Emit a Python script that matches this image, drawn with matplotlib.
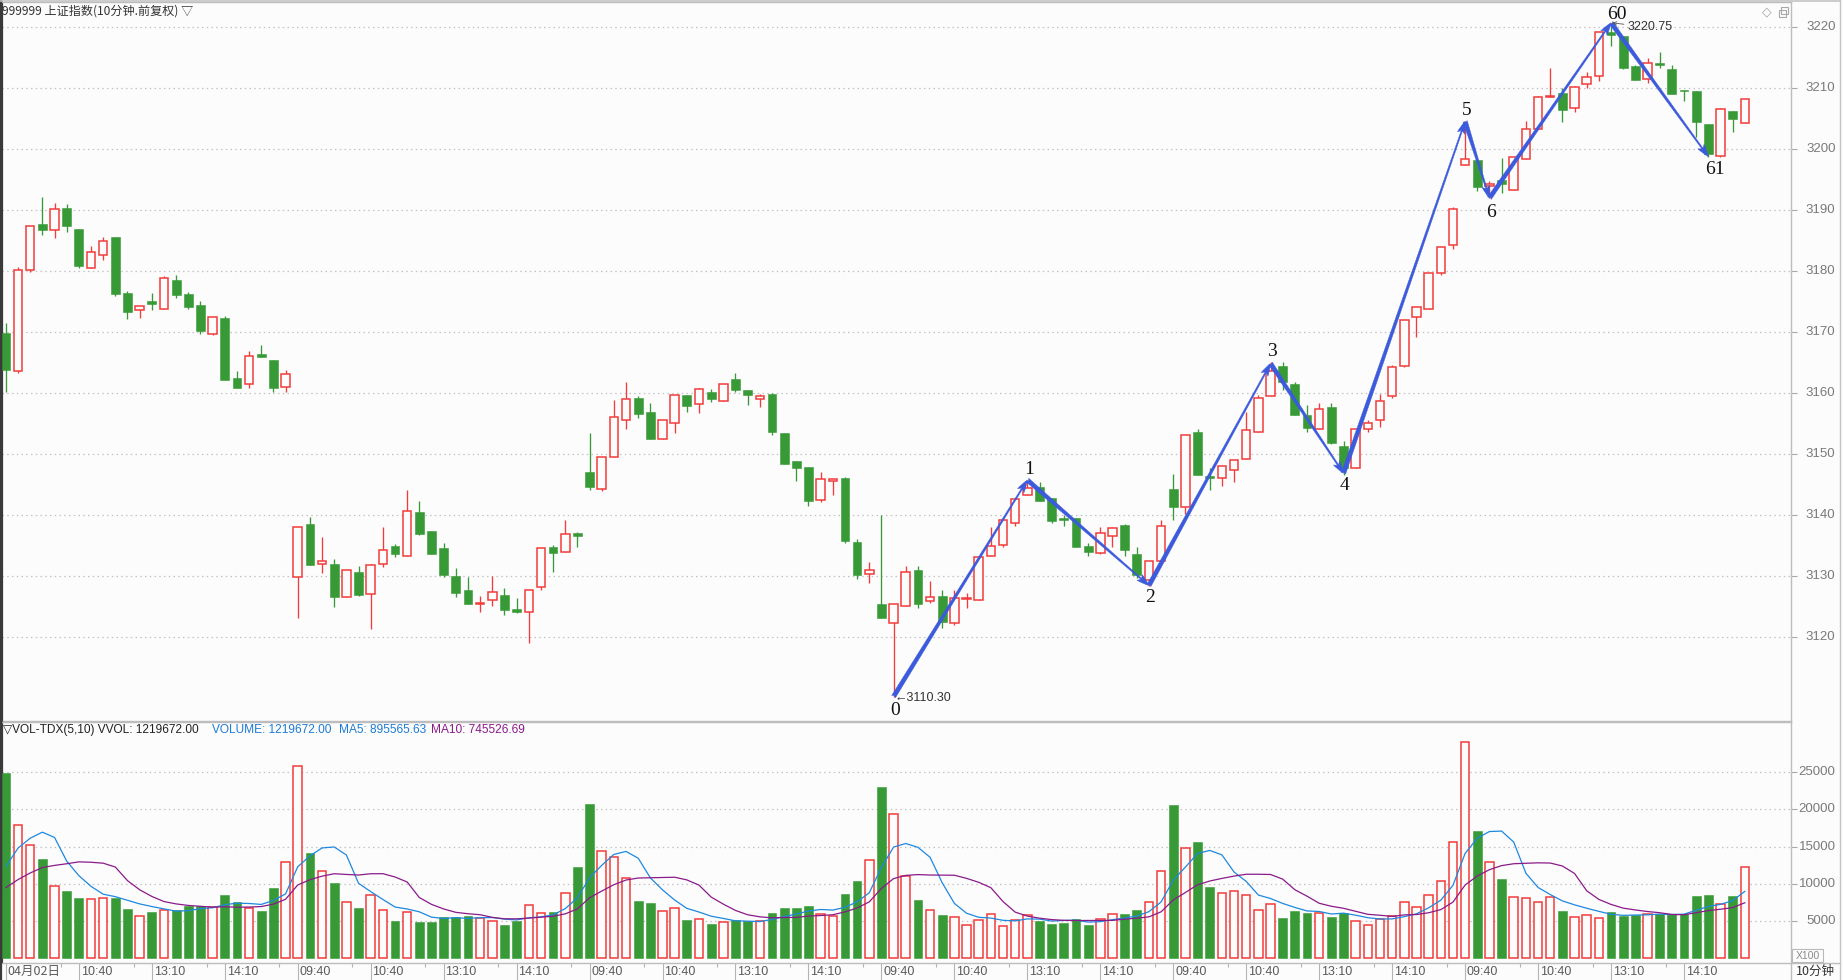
import numpy as np
import pandas as pd
import matplotlib
matplotlib.use("Agg")
import matplotlib.pyplot as plt
from matplotlib import transforms
from matplotlib.patches import Rectangle
from matplotlib.lines import Line2D

# ------------------------------------------------------------------ data
opens = [3169.9, 3163.6, 3180.3, 3187.8, 3186.8, 3190.4, 3186.9, 3180.5, 3182.7, 3185.6,
         3176.4, 3173.6, 3175.1, 3173.9, 3178.6, 3176.3, 3174.5, 3169.8, 3172.3, 3162.5,
         3161.5, 3166.4, 3165.5, 3161.0,
         3129.9, 3138.6, 3132.1, 3132.0, 3126.6, 3130.7, 3127.1, 3132.0, 3135.0, 3133.4,
         3140.5, 3137.4, 3134.6, 3130.1, 3127.8, 3125.4, 3126.1, 3126.9, 3124.6, 3124.1,
         3128.2, 3134.8, 3134.0, 3137.1,
         3147.1, 3144.4, 3149.5, 3155.6, 3159.2, 3156.9, 3152.5, 3155.1, 3159.7, 3158.2,
         3160.2, 3158.7, 3162.4, 3160.6, 3159.0, 3159.9, 3153.5, 3148.9, 3147.9, 3142.6,
         3145.7, 3146.1, 3135.6, 3130.4,
         3125.5, 3122.4, 3125.2, 3131.0, 3125.9, 3126.8, 3122.4, 3126.3, 3126.2, 3133.3,
         3135.2, 3138.8, 3143.3, 3144.6, 3142.8, 3139.6, 3139.6, 3135.0, 3133.9, 3136.6,
         3138.4, 3133.7, 3129.4, 3132.6,
         3144.3, 3141.3, 3153.6, 3146.5, 3146.2, 3147.4, 3149.2, 3153.7, 3159.6, 3164.5,
         3161.5, 3156.4, 3154.1, 3157.7, 3151.4, 3147.7, 3154.1, 3155.6, 3159.5, 3164.5,
         3172.5, 3173.9, 3179.8, 3184.4,
         3197.4, 3198.3, 3194.0, 3194.9, 3193.4, 3198.4, 3203.4, 3208.6, 3209.2, 3206.7,
         3210.7, 3212.0, 3219.3, 3218.6, 3213.7, 3211.6, 3214.2, 3213.2, 3209.6, 3209.6,
         3204.2, 3198.9, 3206.3, 3204.3]
highs = [3171.6, 3180.7, 3187.4, 3192.2, 3191.2, 3191.0, 3186.9, 3184.2, 3185.6, 3185.6,
         3176.8, 3174.4, 3176.4, 3179.2, 3179.4, 3176.6, 3175.1, 3172.5, 3172.7, 3163.7,
         3166.9, 3167.9, 3165.5, 3163.8,
         3138.1, 3139.7, 3136.4, 3132.8, 3131.1, 3131.7, 3132.0, 3138.1, 3135.3, 3144.1,
         3142.3, 3137.4, 3135.5, 3131.4, 3129.9, 3126.8, 3130.1, 3128.1, 3126.4, 3127.7,
         3134.6, 3135.1, 3139.2, 3137.3,
         3153.5, 3149.5, 3158.9, 3161.8, 3159.5, 3158.5, 3155.7, 3159.8, 3159.7, 3160.9,
         3160.7, 3161.6, 3163.4, 3160.6, 3159.9, 3160.0, 3153.5, 3148.9, 3147.9, 3147.1,
         3146.0, 3146.3, 3136.1, 3132.3,
         3140.1, 3125.4, 3131.7, 3131.7, 3129.2, 3127.8, 3127.8, 3127.2, 3133.2, 3138.1,
         3139.2, 3142.7, 3145.8, 3145.4, 3142.8, 3140.1, 3139.6, 3135.4, 3138.1, 3138.1,
         3138.6, 3134.9, 3132.6, 3139.2,
         3146.8, 3153.2, 3154.2, 3147.7, 3148.1, 3149.1, 3157.0, 3159.7, 3165.1, 3165.1,
         3161.9, 3158.1, 3158.5, 3158.4, 3152.2, 3154.1, 3155.7, 3159.9, 3164.6, 3172.1,
         3174.1, 3179.7, 3184.0, 3190.5,
         3204.6, 3198.3, 3194.8, 3198.5, 3198.7, 3204.6, 3208.8, 3213.4, 3210.0, 3210.4,
         3212.6, 3219.2, 3220.75, 3218.6, 3213.9, 3215.0, 3216.0, 3213.8, 3209.7, 3209.6,
         3204.2, 3206.7, 3206.3, 3208.2]
lows = [3160.3, 3163.4, 3179.9, 3186.0, 3185.5, 3186.5, 3180.6, 3180.5, 3181.9, 3176.0,
        3172.2, 3172.4, 3173.6, 3173.9, 3175.7, 3173.8, 3169.8, 3169.5, 3162.2, 3160.8,
        3160.8, 3165.9, 3160.3, 3160.3,
        3123.2, 3131.9, 3130.6, 3125.0, 3126.6, 3126.8, 3121.4, 3131.6, 3133.1, 3133.4,
        3136.8, 3133.7, 3129.9, 3126.7, 3125.4, 3124.2, 3125.2, 3123.7, 3124.0, 3119.1,
        3127.7, 3130.7, 3134.0, 3134.9,
        3144.2, 3144.0, 3149.5, 3154.2, 3156.0, 3152.6, 3152.5, 3153.5, 3157.0, 3156.8,
        3158.6, 3158.7, 3160.3, 3158.1, 3157.7, 3153.2, 3148.5, 3145.7, 3141.6, 3142.2,
        3143.3, 3135.5, 3129.6, 3128.9,
        3123.2, 3110.3, 3125.2, 3124.9, 3125.6, 3121.5, 3122.1, 3124.9, 3126.2, 3133.3,
        3134.9, 3138.3, 3143.3, 3142.4, 3138.8, 3138.2, 3134.8, 3133.4, 3133.6, 3134.9,
        3133.3, 3129.8, 3128.5, 3132.6,
        3139.2, 3140.3, 3146.6, 3144.1, 3144.8, 3145.5, 3149.2, 3153.6, 3159.5, 3160.5,
        3156.4, 3153.7, 3154.1, 3151.7, 3146.7, 3147.7, 3153.6, 3154.5, 3159.3, 3164.4,
        3169.2, 3173.9, 3179.4, 3183.7,
        3197.4, 3193.2, 3192.0, 3192.9, 3193.4, 3198.4, 3203.4, 3208.6, 3204.5, 3206.2,
        3210.1, 3211.2, 3216.9, 3213.1, 3211.3, 3210.8, 3213.3, 3209.0, 3208.0, 3202.1,
        3198.8, 3198.8, 3202.9, 3204.3]
closes = [3163.9, 3180.3, 3187.4, 3186.8, 3190.2, 3187.5, 3180.8, 3183.1, 3184.9, 3176.3,
          3173.4, 3174.4, 3174.7, 3178.9, 3176.1, 3174.2, 3170.3, 3172.5, 3162.2, 3160.9,
          3166.2, 3166.0, 3160.9, 3163.2,
          3138.1, 3131.9, 3132.5, 3126.7, 3131.1, 3127.0, 3131.8, 3134.4, 3133.7, 3140.8,
          3136.9, 3133.7, 3130.2, 3127.3, 3125.4, 3125.7, 3127.5, 3124.5, 3124.2, 3127.7,
          3134.6, 3133.9, 3136.9, 3136.7,
          3144.7, 3149.5, 3156.1, 3159.0, 3156.7, 3152.6, 3155.7, 3159.8, 3158.0, 3160.7,
          3159.0, 3161.6, 3160.6, 3159.8, 3159.6, 3153.7, 3148.5, 3147.8, 3142.4, 3145.9,
          3146.0, 3135.8, 3130.3, 3131.1,
          3123.2, 3125.4, 3130.8, 3125.5, 3126.6, 3122.6, 3126.4, 3126.5, 3133.2, 3135.0,
          3139.2, 3142.7, 3144.5, 3142.4, 3139.1, 3139.2, 3134.9, 3134.0, 3137.1, 3137.9,
          3134.4, 3130.2, 3132.6, 3138.2,
          3141.3, 3153.2, 3146.6, 3146.2, 3148.1, 3149.1, 3154.0, 3159.2, 3163.6, 3161.8,
          3156.4, 3154.4, 3157.5, 3151.9, 3147.8, 3154.1, 3155.1, 3158.8, 3164.4, 3172.0,
          3174.1, 3179.7, 3184.0, 3190.3,
          3198.4, 3193.9, 3194.3, 3194.3, 3198.7, 3203.4, 3208.5, 3208.8, 3206.5, 3210.2,
          3211.8, 3219.2, 3218.7, 3213.4, 3211.3, 3214.1, 3213.9, 3209.0, 3209.5, 3204.4,
          3199.3, 3206.6, 3204.9, 3208.2]
# volume in units of 100 (axis shows X100)
volumes = [24955, 17930, 15200, 13370, 9700, 9070, 8130, 8000, 8090, 8040,
           6660, 5670, 6250, 6480, 6520, 7010, 7010, 6840, 8540, 7550,
           6790, 6390, 9480, 12970, 25800, 14080, 11760, 10150, 7550, 6790,
           8490, 6480, 5050, 6210, 4910, 4910, 5580, 5580, 5720, 5400,
           5000, 4510, 5050, 7150, 6080, 6250, 8760, 12290, 20700, 14400,
           13590, 10770, 7730, 7460, 6340, 6740, 5180, 5270, 4640, 4860,
           5130, 4960, 4960, 6120, 6790, 6790, 7060, 5940, 5720, 8670,
           10410, 13190, 23030, 19360, 11090, 7870, 6480, 5850, 5530, 4460,
           5130, 5940, 4370, 5130, 5800, 5000, 4640, 4780, 5310, 4510,
           5270, 5940, 5990, 6520, 7550, 11760, 20610, 14800, 15650, 9610,
           8760, 9070, 8490, 6480, 7280, 5450, 6390, 6120, 6120, 5580,
           6030, 5000, 4460, 5220, 5670, 7550, 6880, 8490, 10370, 15650,
           29030, 17110, 12970, 10680, 8220, 8090, 7550, 8220, 6390, 5580,
           5800, 5450, 6250, 5670, 5800, 5940, 5940, 5940, 5940, 8400,
           8540, 7330, 8400, 12197]
# volumes of the bars before the visible window (estimated from the MA lines)
prior_volumes = [7200, 6300, 6100, 6800, 6850, 5580, 8550, 9320, 13245]

first_day_label = "04月02日"
session_labels = ["09:40", "10:40", "13:10", "14:10"]
session_offsets = [0, 6, 12, 18]
bars_per_day = 24
n_days = 6

zig_idx = [73, 84, 94, 104, 110, 120, 122, 132, 140]
zig_price = [3110.30, 3145.8, 3128.5, 3164.9, 3146.9, 3204.6, 3192.0, 3220.75, 3198.8]
zig_label = ["0", "1", "2", "3", "4", "5", "6", "60", "61"]
zig_above = [False, True, False, True, False, True, False, True, False]

price_ticks = [3120, 3130, 3140, 3150, 3160, 3170, 3180, 3190, 3200, 3210, 3220]
vol_ticks = [5000, 10000, 15000, 20000, 25000]

title_text = "999999 上证指数(10分钟.前复权) ▽"
legend_parts = [("▽VOL-TDX(5,10) VVOL: 1219672.00", "#222222"),
                ("VOLUME: 1219672.00", "#1B7BD6"),
                ("MA5: 895565.63", "#1B7BD6"),
                ("MA10: 745526.69", "#8A1A8A")]

# ------------------------------------------------------------------ style
BG = "#FCFCFC"
RED = "#F23B3B"
GREEN = "#379A37"
BLUE = "#3C5ADC"
MA5_C = "#1E88E0"
MA10_C = "#8A1A8A"
GRID = "#C2C2C2"
NUMF = ["Liberation Sans", "DejaVu Sans"]
CJK = ["Noto Sans CJK SC", "DejaVu Sans"]
SERIF = ["Liberation Serif", "DejaVu Serif"]

W, H = 1843, 980
fig = plt.figure(figsize=(W / 100, H / 100), dpi=100)
fig.patch.set_facecolor(BG)
PT = 72 / 100  # points per pixel


def fx(px):
    return px / W


def fy(py):
    return 1 - py / H


LEFT, RIGHT = 2, 1791
ax = fig.add_axes([fx(LEFT), fy(721), fx(RIGHT) - fx(LEFT), fy(2) - fy(721)])
axv = fig.add_axes([fx(LEFT), fy(962.5), fx(RIGHT) - fx(LEFT), fy(722) - fy(962.5)])

o = np.array(opens)
hi = np.array(highs)
lo = np.array(lows)
c = np.array(closes)
v = np.array(volumes, dtype=float)
x = np.arange(len(c))
up = c >= o
cols = np.where(up, RED, GREEN)

for a in (ax, axv):
    a.set_facecolor(BG)
    a.set_xlim(-0.32, 146.8)
    a.set_axisbelow(True)
    for s in ("top", "right", "bottom"):
        a.spines[s].set_color("#BDBDBD")
        a.spines[s].set_linewidth(1.0)
    a.spines["left"].set_color("#3A3A3A")
    a.spines["left"].set_linewidth(1.6)
    a.yaxis.tick_right()
    a.tick_params(axis="y", length=4, width=0.8, color="#A8A8A8", direction="out",
                  labelright=False, labelleft=False)
    a.grid(axis="y", color=GRID, linestyle=(0, (1.2, 2.6)), linewidth=0.9)

# ---------------- price panel
ax.set_ylim(3106.3, 3224.15)
ax.set_yticks(price_ticks)
ax.tick_params(axis="x", bottom=False, labelbottom=False)
ax.vlines(x, lo, hi, colors=cols, linewidth=0.95, zorder=2)
body_lo = np.minimum(o, c)
body_h = np.maximum(np.abs(c - o), 0.15)
ax.bar(x[up], body_h[up], bottom=body_lo[up], width=0.70, facecolor=BG,
       edgecolor=RED, linewidth=1.1, zorder=3)
ax.bar(x[~up], body_h[~up], bottom=body_lo[~up], width=0.72, facecolor=GREEN,
       edgecolor=GREEN, linewidth=0.4, zorder=3)

tr_lab = transforms.blended_transform_factory(fig.transFigure, ax.transData)
for p in price_ticks:
    ax.text(fx(1835.5), p, str(p), transform=tr_lab, ha="right", va="center",
            fontsize=9.5, color="#7A7A7A", family=NUMF, clip_on=False)

# zigzag arrows
for k in range(len(zig_idx) - 1):
    ax.annotate("", xy=(zig_idx[k + 1], zig_price[k + 1]),
                xytext=(zig_idx[k], zig_price[k]),
                arrowprops=dict(arrowstyle="fancy,head_length=0.9,head_width=0.55,tail_width=0.32",
                                mutation_scale=10, color=BLUE, lw=0.3,
                                shrinkA=0, shrinkB=0), zorder=5)
label_gap_px = [13.5, 10.6, 11.5, 11.7, 12.3, 11.0, 14.0, 8.5, 12.4]
for i, p, lab, ab, g in zip(zig_idx, zig_price, zig_label, zig_above, label_gap_px):
    ax.annotate(lab, xy=(i, p), xytext=(-3.5 * PT, (g if ab else -g) * PT),
                textcoords="offset points", ha="left", va="center",
                fontsize=14, family=SERIF, color="#111111", zorder=6)

ax.annotate("←3110.30", xy=(zig_idx[0], zig_price[0]), xytext=(0.5, -1.0),
            textcoords="offset points", ha="left", va="center",
            fontsize=9, family=NUMF, color="#333333", zorder=6)
ax.annotate("3220.75", xy=(zig_idx[7], zig_price[7]), xytext=(17 * PT, -4.6 * PT),
            textcoords="offset points", ha="left", va="center",
            fontsize=9, family=NUMF, color="#333333", zorder=6,
            arrowprops=dict(arrowstyle="->", lw=0.6, color="#555555",
                            shrinkA=1, shrinkB=1, mutation_scale=6))

# ---------------- volume panel
axv.set_ylim(-590, 31758)
axv.set_yticks(vol_ticks)
axv.bar(x[up], v[up], width=0.70, facecolor=BG, edgecolor=RED, linewidth=1.1, zorder=3)
axv.bar(x[~up], v[~up], width=0.72, facecolor=GREEN, edgecolor=GREEN, linewidth=0.4, zorder=3)
full = pd.Series(list(prior_volumes) + list(volumes), dtype=float)
n_prior = len(prior_volumes)
ma5 = full.rolling(5).mean().to_numpy()[n_prior:]
ma10 = full.rolling(10).mean().to_numpy()[n_prior:]
axv.plot(x, ma5, color=MA5_C, linewidth=0.9, zorder=4)
axv.plot(x, ma10, color=MA10_C, linewidth=0.9, zorder=4)

tr_vlab = transforms.blended_transform_factory(fig.transFigure, axv.transData)
for t in vol_ticks:
    axv.text(fx(1835.5), t, str(t), transform=tr_vlab, ha="right", va="center",
             fontsize=9.5, color="#7A7A7A", family=NUMF, clip_on=False)

# x ticks & labels
tick_pos, tick_lab = [], []
for d in range(n_days):
    for off, lab in zip(session_offsets, session_labels):
        tick_pos.append(d * bars_per_day + off)
        tick_lab.append(first_day_label if (d == 0 and off == 0) else lab)
axv.set_xticks(tick_pos)
axv.set_xticks([p - 1.5 for p in tick_pos if p > 0], minor=True)
axv.tick_params(axis="x", which="major", length=13, width=0.8, color="#B4B4B4",
                direction="out", labelbottom=False)
axv.tick_params(axis="x", which="minor", length=3, width=0.8, color="#B4B4B4",
                direction="out", labelbottom=False)
tr_x = transforms.blended_transform_factory(axv.transData, fig.transFigure)
for p, lab in zip(tick_pos, tick_lab):
    axv.text(p + 0.15, fy(971.5), lab, transform=tr_x, ha="left", va="center",
             fontsize=9, color="#5A5A5A", family=CJK if "月" in lab else NUMF,
             clip_on=False)

# legend line of the volume panel
leg_x = [3, 212, 339, 431]
for (txt, col), px in zip(legend_parts, leg_x):
    fig.text(fx(px), fy(730), txt, ha="left", va="center", fontsize=8.6,
             color=col, family=NUMF)

# title
fig.text(fx(2), fy(11), title_text, ha="left", va="center", fontsize=8.7,
         color="#333333", family=CJK)

# small decorations
fig.text(fx(1766.7), fy(12), "◇", ha="center", va="center", fontsize=9,
         color="#A0A0A0", family=["DejaVu Sans"])
fig.patches.append(Rectangle((fx(1778.5), fy(17)), 7 / W, 7 / H, fill=False,
                             ec="#A8A8A8", lw=0.8, transform=fig.transFigure))
fig.patches.append(Rectangle((fx(1781), fy(14.5)), 7 / W, 7 / H, fill=False,
                             ec="#A8A8A8", lw=0.8, transform=fig.transFigure))
fig.patches.append(Rectangle((fx(1792), fy(961.7)), 31 / W, 12.5 / H, fill=False,
                             ec="#B8B8B8", lw=0.8, transform=fig.transFigure))
fig.text(fx(1807.5), fy(955.5), "X100", ha="center", va="center", fontsize=7.5,
         color="#8A8A8A", family=NUMF)
fig.text(fx(1815), fy(971), "10分钟", ha="center", va="center", fontsize=9,
         color="#333333", family=CJK)
fig.lines.append(Line2D([fx(1791), fx(1840)], [fy(962.5), fy(962.5)],
                        transform=fig.transFigure, color="#BDBDBD", lw=1.0))
fig.lines.append(Line2D([fx(1791), fx(1791)], [fy(962.5), fy(980)],
                        transform=fig.transFigure, color="#BDBDBD", lw=1.0))
fig.lines.append(Line2D([fx(1840), fx(1840)], [0, 1],
                        transform=fig.transFigure, color="#C4C4C4", lw=1.0))
fig.lines.append(Line2D([fx(1.2), fx(1.2)], [0, 1],
                        transform=fig.transFigure, color="#3A3A3A", lw=1.6))
fig.lines.append(Line2D([0, fx(1840)], [fy(1), fy(1)],
                        transform=fig.transFigure, color="#C4C4C4", lw=1.2))

fig.savefig("out.png", dpi=100, facecolor=BG)
